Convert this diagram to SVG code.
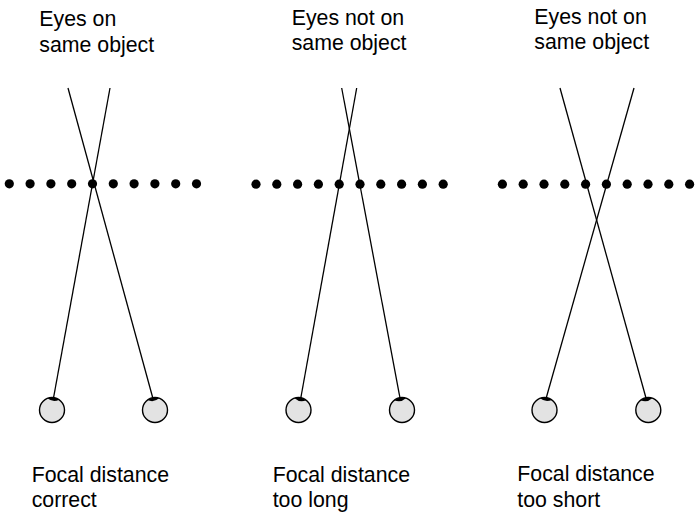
<svg xmlns="http://www.w3.org/2000/svg" xmlns:xlink="http://www.w3.org/1999/xlink" width="697" height="514" viewBox="0 0 697 514">
<style>
text{font-family:"Liberation Sans",Arial,Helvetica,sans-serif;font-size:21.3px;fill:#000}
.ray{stroke:#000;stroke-width:1.3;fill:none}
.dot{fill:#000}
.eye{fill:#e3e3e3;stroke:#000;stroke-width:1.4}
.cap{fill:#000}
</style>
<defs>
<g id="dots">
<circle class="dot" cx="0" cy="0" r="4.6"/>
<circle class="dot" cx="20.8" cy="0" r="4.6"/>
<circle class="dot" cx="41.6" cy="0" r="4.6"/>
<circle class="dot" cx="62.4" cy="0" r="4.6"/>
<circle class="dot" cx="83.2" cy="0" r="4.6"/>
<circle class="dot" cx="104" cy="0" r="4.6"/>
<circle class="dot" cx="124.8" cy="0" r="4.6"/>
<circle class="dot" cx="145.6" cy="0" r="4.6"/>
<circle class="dot" cx="166.4" cy="0" r="4.6"/>
<circle class="dot" cx="187.2" cy="0" r="4.6"/>
</g>
<path id="cap" class="cap" d="M -5.9,-11 A 12.5 12.5 0 0 1 5.9,-11 Q 0,-7.2 -5.9,-11 Z"/>
</defs>
<rect width="697" height="514" fill="#fff"/>

<g id="rays">
<line class="ray" x1="68" y1="88" x2="152.8" y2="398"/>
<line class="ray" x1="110" y1="88" x2="53.5" y2="398"/>
<line class="ray" x1="341.7" y1="88" x2="400" y2="398"/>
<line class="ray" x1="356.7" y1="88" x2="300.8" y2="398"/>
<line class="ray" x1="560" y1="88" x2="646" y2="398"/>
<line class="ray" x1="634" y1="88" x2="546.2" y2="398"/>
</g>

<g id="panel1">
<text x="39.3" y="26">Eyes on</text>
<text x="39.3" y="51.7">same object</text>
<use xlink:href="#dots" x="9.3" y="183.8"/>
<g id="eye1L"><circle class="eye" cx="52" cy="410" r="12.5"/><use xlink:href="#cap" transform="translate(52,410) rotate(7)"/></g>
<g id="eye1R"><circle class="eye" cx="155" cy="410" r="12.5"/><use xlink:href="#cap" transform="translate(155,410) rotate(-9)"/></g>
<text x="31.7" y="481.7">Focal distance</text>
<text x="31.7" y="507.3">correct</text>
</g>

<g id="panel2">
<text x="291.7" y="25">Eyes not on</text>
<text x="291.7" y="50">same object</text>
<use xlink:href="#dots" x="256" y="184.2"/>
<g id="eye2L"><circle class="eye" cx="298.5" cy="410" r="12.5"/><use xlink:href="#cap" transform="translate(298.5,410) rotate(10)"/></g>
<g id="eye2R"><circle class="eye" cx="402" cy="410" r="12.5"/><use xlink:href="#cap" transform="translate(402,410) rotate(-10)"/></g>
<text x="272.7" y="482.3">Focal distance</text>
<text x="272.7" y="506.7">too long</text>
</g>

<g id="panel3">
<text x="534.3" y="23.5">Eyes not on</text>
<text x="534.3" y="48.5">same object</text>
<use xlink:href="#dots" x="502.4" y="184.2"/>
<g id="eye3L"><circle class="eye" cx="544.5" cy="410" r="12.5"/><use xlink:href="#cap" transform="translate(544.5,410) rotate(8)"/></g>
<g id="eye3R"><circle class="eye" cx="648.3" cy="410" r="12.5"/><use xlink:href="#cap" transform="translate(648.3,410) rotate(-10)"/></g>
<text x="517.3" y="480.7">Focal distance</text>
<text x="517.3" y="506.7">too short</text>
</g>
</svg>
